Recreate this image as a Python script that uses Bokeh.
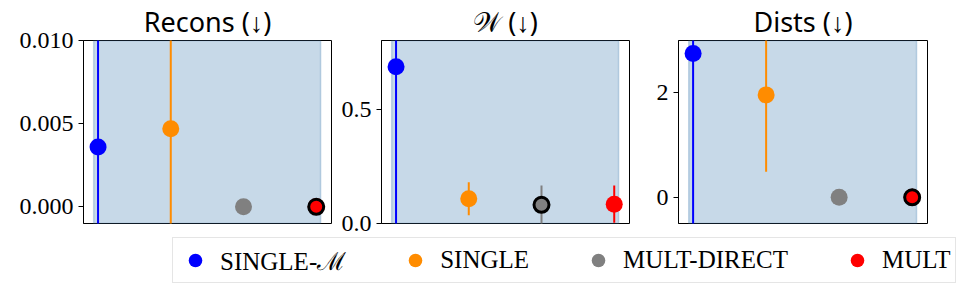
from bokeh.plotting import figure
from bokeh.models import (BoxAnnotation, FixedTicker, Legend, LegendItem, Range1d,
                          ColumnDataSource, NumeralTickFormatter)
from bokeh.layouts import column, row
from bokeh.embed import file_html
from bokeh.resources import INLINE

# ---------------- data ----------------
methods = ["Single-ℳ", "Single", "Mult-Direct", "Mult"]
legend_labels = ["SINGLE-ℳ", "SINGLE", "MULT-DIRECT", "MULT"]
colors = ["#0000ff", "#ff8c00", "#808080", "#ff0000"]
positions = [0, 1, 2, 3]

titles = ["Recons (↓)", "𝒲 (↓)", "Dists (↓)"]
recons_mean = [0.0036, 0.0047, 0.0, 0.0]
recons_err = [0.008, 0.007, 0.0, 0.0]
w_mean = [0.69, 0.109, 0.082, 0.085]
w_err = [0.75, 0.073, 0.085, 0.082]
dists_mean = [2.75, 1.96, 0.0, 0.0]
dists_err = [3.4, 1.47, 0.0, 0.0]
best_index = [3, 2, 3]

y_ticks = [[0.0, 0.005, 0.010], [0.0, 0.5], [0, 2]]
y_limits = [(-0.001, 0.010), (0.0, 0.805), (-0.5, 3.0)]
y_formats = ["0.000", "0.0", "0"]

means = [recons_mean, w_mean, dists_mean]
errs = [recons_err, w_err, dists_err]

# ---------------- layout ----------------
fig_widths = [333, 319, 320]
borders_left = [83, 48, 26]
frame_widths = [248, 248, 249]
FIG_H = 237

panels = []
for k in range(3):
    p = figure(width=fig_widths[k], height=FIG_H, output_backend="svg",
               toolbar_location=None, x_range=Range1d(-0.2, 3.21),
               y_range=Range1d(*y_limits[k]),
               min_border_left=borders_left[k],
               min_border_right=fig_widths[k] - borders_left[k] - frame_widths[k],
               min_border_top=30, min_border_bottom=FIG_H - 38 - 185)
    p.title.text = titles[k]
    p.title.align = "center"
    p.title.text_font = "Noto Sans"
    p.title.text_font_size = "27px"
    p.title.text_font_style = "normal"
    p.title.text_color = "black"
    p.title.standoff = 1

    p.xaxis.visible = False
    p.xgrid.visible = False
    p.ygrid.visible = False
    p.outline_line_color = "black"
    p.outline_line_width = 1
    p.outline_line_alpha = 1

    ax = p.yaxis[0]
    ax.ticker = FixedTicker(ticks=y_ticks[k])
    ax.formatter = NumeralTickFormatter(format=y_formats[k])
    ax.minor_tick_line_color = None
    ax.major_tick_out = 5
    ax.major_tick_in = 0
    ax.major_tick_line_color = "black"
    ax.axis_line_color = "black"
    ax.major_label_standoff = 5
    ax.major_label_text_font = "Liberation Serif"
    ax.major_label_text_font_size = "24px"
    ax.major_label_text_color = "black"

    p.add_layout(BoxAnnotation(left=-0.06, right=3.06, fill_color="steelblue",
                               fill_alpha=0.3, line_color="steelblue",
                               line_alpha=0.3, line_width=1.5, level="underlay"))

    m = means[k]
    e = errs[k]
    src = ColumnDataSource(dict(
        x=positions, y=m,
        lo=[mv - ev for mv, ev in zip(m, e)],
        hi=[mv + ev for mv, ev in zip(m, e)],
        color=colors,
    ))
    p.segment(x0="x", y0="lo", x1="x", y1="hi", line_color="color",
              line_width=2, source=src)
    p.scatter(x="x", y="y", size=17, fill_color="color", line_color=None,
              source=src)
    b = best_index[k]
    best_src = ColumnDataSource(dict(x=[positions[b]], y=[m[b]], color=[colors[b]]))
    p.scatter(x="x", y="y", size=15, fill_color="color", line_color="black",
              line_width=3, source=best_src)
    panels.append(p)

# ---------------- legend ----------------
LEG_H = 48
leg = figure(width=972, height=LEG_H, output_backend="svg", toolbar_location=None,
             x_range=Range1d(0, 1), y_range=Range1d(0, 1),
             min_border=0, min_border_left=0, min_border_right=0,
             min_border_top=0, min_border_bottom=0)
leg.axis.visible = False
leg.grid.visible = False
leg.outline_line_color = None
items = []
for lab, c in zip(legend_labels, colors):
    # proxy renderer kept outside the visible range: only its legend glyph shows
    r = leg.scatter(x=[5], y=[5], size=14, fill_color=c, line_color=None)
    items.append(LegendItem(label=lab, renderers=[r]))
legend = Legend(items=items, orientation="horizontal", location=(172, 2),
                padding=5, spacing=52, margin=0, glyph_width=34, glyph_height=34,
                label_standoff=8, label_text_font="Liberation Serif",
                label_text_font_size="25px", label_text_color="black",
                border_line_color="#cccccc", border_line_width=1,
                background_fill_color="white", background_fill_alpha=1)
leg.add_layout(legend, "center")

layout = column(row(*panels), leg)

open("out.html", "w").write(file_html(layout, INLINE))
